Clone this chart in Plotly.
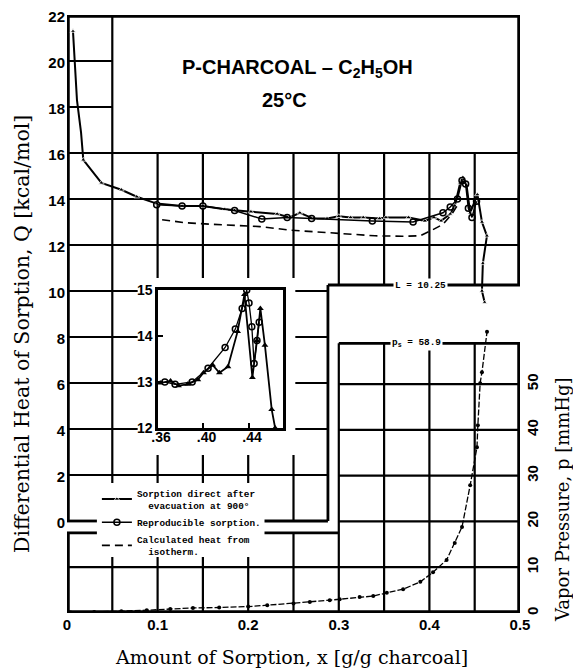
import plotly.graph_objects as go

# ---------------- data ----------------
# Sorption direct after evacuation (filled markers); size 0 = curve point without symbol
x_direct = [0.0066, 0.0088, 0.011, 0.0155, 0.018, 0.038, 0.060, 0.077, 0.099, 0.127, 0.150, 0.174, 0.185,
            0.203, 0.232, 0.246, 0.257, 0.272, 0.287, 0.300, 0.313, 0.327, 0.345, 0.352, 0.377, 0.395,
            0.405, 0.413, 0.423, 0.428, 0.434, 0.437, 0.441, 0.445, 0.453, 0.458, 0.4635, 0.459, 0.458,
            0.461]
q_direct = [21.3, 19.7, 18.3, 16.9, 15.7, 14.7, 14.4, 14.1, 13.8, 13.7, 13.7, 13.55, 13.5,
            13.45, 13.35, 13.2, 13.4, 13.15, 13.15, 13.25, 13.2, 13.2, 13.15, 13.2, 13.2, 13.05,
            13.2, 13.05, 13.35, 13.7, 14.7, 14.95, 14.6, 13.4, 14.2, 13.0, 12.4, 11.2, 10.0, 9.5]
direct_marker = [5, 0, 0, 0] + [5] * 36
# Reproducible sorption (open circles)
x_repro = [0.099, 0.127, 0.150, 0.185, 0.215, 0.243, 0.270, 0.337, 0.382, 0.415, 0.423, 0.431,
           0.436, 0.440, 0.443, 0.447, 0.452]
q_repro = [13.75, 13.7, 13.7, 13.5, 13.13, 13.2, 13.15, 13.04, 13.0, 13.4, 13.65, 14.0,
           14.8, 14.65, 13.6, 13.2, 13.9]
# Calculated heat from isotherm (dashed)
x_calc = [0.105, 0.13, 0.16, 0.213, 0.245, 0.30, 0.34, 0.37, 0.39, 0.403, 0.415, 0.425, 0.432]
q_calc = [13.1, 12.97, 12.9, 12.8, 12.65, 12.5, 12.4, 12.38, 12.4, 12.65, 12.9, 13.35, 13.8]
# Isotherm: vapor pressure p [mmHg]
x_iso = [0.004, 0.03, 0.06, 0.088, 0.114, 0.139, 0.168, 0.2, 0.221, 0.25, 0.268, 0.29, 0.301, 0.323,
         0.338, 0.353, 0.371, 0.39, 0.404, 0.419, 0.428, 0.436, 0.445, 0.4525, 0.4535, 0.456, 0.458, 0.4636]
p_iso = [0.1, 0.2, 0.4, 0.6, 0.9, 1.1, 1.2, 1.4, 1.7, 2.1, 2.4, 2.8, 3.0, 3.5,
         3.7, 4.4, 5.2, 6.8, 8.9, 11.6, 15.3, 18.8, 27.9, 36.2, 41.0, 50.2, 52.6, 61.4]
# Inset (enlarged peak region)
x_in_direct = [0.362, 0.371, 0.378, 0.386, 0.395, 0.400, 0.408, 0.414, 0.4215, 0.430, 0.436,
               0.443, 0.447, 0.450, 0.454, 0.460, 0.463]
q_in_direct = [12.98, 13.02, 12.92, 12.95, 13.05, 13.2, 13.37, 13.2, 13.33, 14.1, 14.9,
               13.1, 13.9, 14.6, 13.8, 12.4, 12.0]
x_in_repro = [0.366, 0.375, 0.390, 0.404, 0.419, 0.428, 0.434, 0.438, 0.440, 0.4425, 0.4445, 0.447, 0.449]
q_in_repro = [13.0, 12.95, 13.0, 13.3, 13.75, 14.15, 14.6, 15.0, 14.72, 14.2, 13.4, 13.9, 14.3]

x_ticks = [0, 0.1, 0.2, 0.3, 0.4, 0.5]
x_ticktext = ["0", "0.1", "0.2", "0.3", "0.4", "0.5"]
q_ticks = [0, 2, 4, 6, 8, 10, 12, 14, 16, 18, 20, 22]
p_ticks = [0, 10, 20, 30, 40, 50]
in_x_ticks = [0.36, 0.40, 0.44]
in_x_ticktext = [".36", ".40", ".44"]
in_q_ticks = [12, 13, 14, 15]

x_grid = [0.05, 0.10, 0.15, 0.20, 0.25, 0.30, 0.35, 0.40, 0.45]
q_grid = [2, 4, 6, 8, 10, 12, 14, 16, 18, 20]
p_grid = [10, 20, 30, 40, 50]

# layout landmarks of the composite drawing
Q_MAX, Q_MIN = 22, -4
P_MAX = 130.6
X_MAX = 0.5
Q_TITLE_BOX = 16      # bottom of title box
X_TITLE_BOX = 0.05    # left of title box
Q_STEP = 10.26        # L = latent heat line
X_STEP_UP = 0.288
X_STEP_LOW = 0.30
P_LOW_LEFT_TOP = 17.5
P_SAT = 58.9

BOLD = dict(family="Liberation Sans", size=15, color="black", weight="bold")
BOLD_IN = dict(family="Liberation Sans", size=14, color="black", weight="bold")
MONO = dict(family="Liberation Mono", size=9.4, color="black", weight="bold")


def serif(size):
    return dict(family="DejaVu Serif", size=size, color="black")


fig = go.Figure()

fig.add_trace(go.Scatter(x=x_direct, y=q_direct, mode="lines+markers",
                         name="Sorption direct after<br>  evacuation at 900°",
                         line=dict(color="black", width=2),
                         marker=dict(symbol="triangle-up", size=direct_marker, color="black")))
fig.add_trace(go.Scatter(x=x_repro, y=q_repro, mode="lines+markers",
                         name="Reproducible sorption.",
                         line=dict(color="black", width=1.5),
                         marker=dict(symbol="circle-open", size=6, color="black", line=dict(width=1.5))))
fig.add_trace(go.Scatter(x=x_calc, y=q_calc, mode="lines",
                         name="Calculated heat from<br>  isotherm.",
                         line=dict(color="black", width=1.6, dash="8px,5px")))
fig.add_trace(go.Scatter(x=x_iso, y=p_iso, mode="lines+markers", yaxis="y2", showlegend=False,
                         line=dict(color="black", width=1.3, dash="6px,2px"),
                         marker=dict(symbol="circle", size=4, color="black")))
fig.add_trace(go.Scatter(x=x_in_direct, y=q_in_direct, mode="lines+markers", xaxis="x3", yaxis="y3",
                         showlegend=False, line=dict(color="black", width=1.8),
                         marker=dict(symbol="triangle-up", size=6, color="black")))
fig.add_trace(go.Scatter(x=x_in_repro, y=q_in_repro, mode="lines+markers", xaxis="x3", yaxis="y3",
                         showlegend=False, line=dict(color="black", width=1.3),
                         marker=dict(symbol="circle-open", size=6, color="black", line=dict(width=1.5))))

shapes = []


def seg(x0, x1, y0, y1, yref="y", w=2.2):
    shapes.append(dict(type="line", xref="x", yref=yref, x0=x0, x1=x1, y0=y0, y1=y1,
                       line=dict(color="black", width=w), layer="below"))


# upper (heat) chart grid
for q in q_grid:
    if q > Q_TITLE_BOX:
        seg(0, X_TITLE_BOX, q, q)
    elif q > Q_STEP:
        seg(0, X_MAX, q, q)
    else:
        seg(0, X_STEP_UP, q, q)
for xv in x_grid:
    top = Q_MAX if xv <= X_TITLE_BOX else Q_TITLE_BOX
    bottom = 0 if xv < X_STEP_UP else Q_STEP
    seg(xv, xv, bottom, top)
# lower (isotherm) chart grid
for p in p_grid:
    if p < P_LOW_LEFT_TOP:
        seg(0, X_MAX, p, p, "y2")
    else:
        seg(X_STEP_LOW, X_MAX, p, p, "y2")
for xv in x_grid:
    if xv < X_STEP_LOW - 1e-9:
        seg(xv, xv, 0, P_LOW_LEFT_TOP, "y2")
    else:
        seg(xv, xv, 0, P_SAT, "y2")

# white masks (inset area, legend area)
for (x0, x1, y0, y1) in [(0.078, 0.252, 2.87, 10.57), (0.033, 0.218, -1.57, 1.65)]:
    shapes.append(dict(type="rect", xref="x", yref="y", x0=x0, x1=x1, y0=y0, y1=y1,
                       fillcolor="white", line=dict(width=0), layer="below"))

# frames (lines on the plot edge are half clipped, so drawn wider)
FW = 2.8
EW = 5.5
seg(0, X_MAX, Q_MAX, Q_MAX, w=EW)
seg(X_MAX, X_MAX, Q_STEP, Q_MAX, w=EW)
seg(X_STEP_UP, X_MAX, Q_STEP, Q_STEP, w=FW)
seg(X_STEP_UP, X_STEP_UP, 0, Q_STEP, w=FW)
seg(0, 0.033, 0, 0, w=FW)
seg(0.218, X_STEP_UP, 0, 0, w=FW)
seg(0, 0, 0, Q_MAX, w=EW)
seg(0, X_MAX, 0, 0, "y2", w=EW)
seg(0, 0, 0, P_LOW_LEFT_TOP, "y2", w=EW)
seg(0, 0.033, P_LOW_LEFT_TOP, P_LOW_LEFT_TOP, "y2", w=FW)
seg(0.218, X_STEP_LOW, P_LOW_LEFT_TOP, P_LOW_LEFT_TOP, "y2", w=FW)
seg(X_STEP_LOW, X_MAX, P_SAT, P_SAT, "y2", w=FW)
seg(X_MAX, X_MAX, 0, P_SAT, "y2", w=EW)


def note(text, x, y, font, xref="paper", yref="paper", angle=0, bg=None):
    d = dict(text=text, x=x, y=y, xref=xref, yref=yref, showarrow=False, font=font,
             xanchor="center", yanchor="middle", textangle=angle)
    if bg:
        d["bgcolor"] = bg
    return d


annotations = [
    note("P-CHARCOAL – C<sub>2</sub>H<sub>5</sub>OH", 0.508, 0.911,
         dict(family="Liberation Sans", size=20, color="black", weight="bold")),
    note("25°C", 0.481, 0.858, dict(family="Liberation Sans", size=20, color="black", weight="bold")),
    note("Differential Heat of Sorption, Q [kcal/mol]", -0.0993, 0.4666, serif(20.5), angle=-90),
    note("Vapor Pressure, p [mmHg]", 1.095, 0.189, serif(18), angle=-90),
    note("Amount of Sorption, x [g/g charcoal]", 0.4945, -0.0736, serif(19)),
    note("L = 10.25", 0.39, Q_STEP, MONO, "x", "y", bg="white"),
    note("p<sub>s</sub> = 58.9", 0.386, P_SAT, MONO, "x", "y2", bg="white"),
]

# the page body adds an 8px offset: the figure starts at (8, 8) in the window
fig.update_layout(
    width=573, height=662,
    margin=dict(l=59, r=61, t=7, b=57, autoexpand=False),
    paper_bgcolor="white", plot_bgcolor="white",
    shapes=shapes, annotations=annotations,
    xaxis=dict(range=[0, X_MAX], tickvals=x_ticks, ticktext=x_ticktext, showgrid=False,
               zeroline=False, showline=False, ticks="", tickfont=BOLD, ticklabelstandoff=1,
               automargin=False, ticklabeloverflow="allow"),
    yaxis=dict(range=[Q_MIN, Q_MAX], tickvals=q_ticks, showgrid=False, zeroline=False,
               showline=False, ticks="", tickfont=BOLD, ticklabelstandoff=1, ticklabelshift=2,
               automargin=False, ticklabeloverflow="allow"),
    yaxis2=dict(range=[0, P_MAX], overlaying="y", side="right", tickvals=p_ticks, showgrid=False,
                zeroline=False, showline=False, ticks="", tickangle=-90, tickfont=BOLD,
                ticklabelstandoff=2, automargin=False, ticklabeloverflow="allow"),
    xaxis3=dict(domain=[0.2009, 0.4768], range=[0.36, 0.4699], anchor="y3", tickvals=in_x_ticks,
                ticktext=in_x_ticktext, showgrid=False, zeroline=False, showline=True, mirror=True,
                linecolor="black", linewidth=2.5, ticks="inside", ticklen=5, tickwidth=2,
                tickcolor="black", tickfont=BOLD_IN, ticklabelstandoff=-6, ticklabelshift=3,
                automargin=False),
    yaxis3=dict(domain=[0.3094, 0.5401], range=[12, 15], anchor="x3", tickvals=in_q_ticks,
                showgrid=False, zeroline=False, showline=True, mirror=True, linecolor="black",
                linewidth=2.5, ticks="inside", ticklen=5, tickwidth=2, tickcolor="black",
                tickfont=BOLD_IN, automargin=False),
    legend=dict(x=0.066, y=0.222, xanchor="left", yanchor="top", bgcolor="rgba(0,0,0,0)",
                font=MONO, tracegroupgap=0, itemwidth=30),
    showlegend=True,
)

fig.write_html("out.html")
